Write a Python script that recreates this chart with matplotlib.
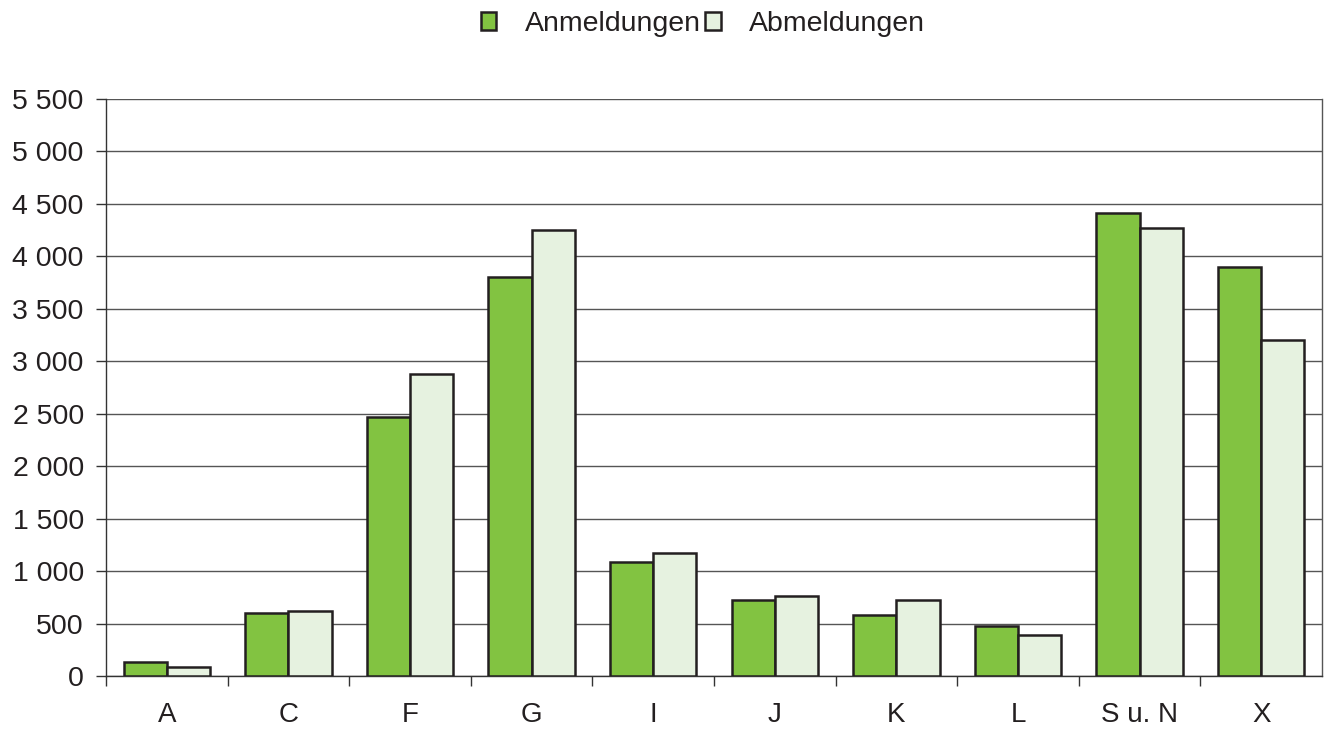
import matplotlib
matplotlib.use("Agg")
import matplotlib.pyplot as plt
from matplotlib.ticker import FuncFormatter, FixedLocator
import numpy as np

plt.rcParams['font.family'] = ['Liberation Sans', 'DejaVu Sans']

categories = ["A", "C", "F", "G", "I", "J", "K", "L", "S u. N", "X"]
anmeldungen = [130, 600, 2470, 3800, 1090, 725, 580, 475, 4410, 3900]
abmeldungen = [85, 620, 2880, 4250, 1170, 760, 725, 395, 4270, 3200]

green = "#82c341"
light = "#e6f2e0"
edge = "#231f20"

fig = plt.figure(figsize=(13.29, 7.29), dpi=100)
ax = fig.add_axes([0.0798, 0.0727, 0.9149, 0.7915])

x = np.arange(len(categories))
w = 0.355
ax.bar(x - w / 2, anmeldungen, w, color=green, edgecolor=edge, linewidth=1.8,
       label="Anmeldungen", zorder=3)
ax.bar(x + w / 2, abmeldungen, w, color=light, edgecolor=edge, linewidth=1.8,
       label="Abmeldungen", zorder=3)

ax.set_xlim(-0.5, len(categories) - 0.5)
ax.set_ylim(0, 5500)
ax.set_yticks(np.arange(0, 5501, 500))
ax.yaxis.set_major_formatter(FuncFormatter(lambda v, p: f"{int(v):,}".replace(",", " ")))
ax.grid(axis="y", color="#555555", linewidth=1.0, zorder=0)

ax.set_xticks(x)
ax.set_xticklabels(categories)
ax.xaxis.set_minor_locator(FixedLocator(np.arange(-0.5, len(categories) - 0.6, 1.0)))
ax.tick_params(axis="x", which="major", length=0, pad=19, labelsize=20)
ax.tick_params(axis="x", which="minor", length=7.5, width=1, color="#333333", direction="out")
ax.tick_params(axis="y", length=7, width=1, color="#333333", pad=9, labelsize=20.5,
               labelcolor="#231f20")
ax.tick_params(axis="x", labelcolor="#231f20")

ax.spines["top"].set_visible(False)
ax.spines["left"].set_color("#333333")
ax.spines["bottom"].set_color("#333333")
ax.spines["right"].set_color("#555555")
for s in ax.spines.values():
    s.set_linewidth(1.0)

fig.legend(loc="upper center", bbox_to_anchor=(0.529, 1.02), ncol=2, frameon=False,
           fontsize=20.5, handlelength=0.55, handleheight=0.55, handletextpad=1.0,
           columnspacing=0.15, labelcolor="#231f20")

fig.savefig("out.png", dpi=100)
